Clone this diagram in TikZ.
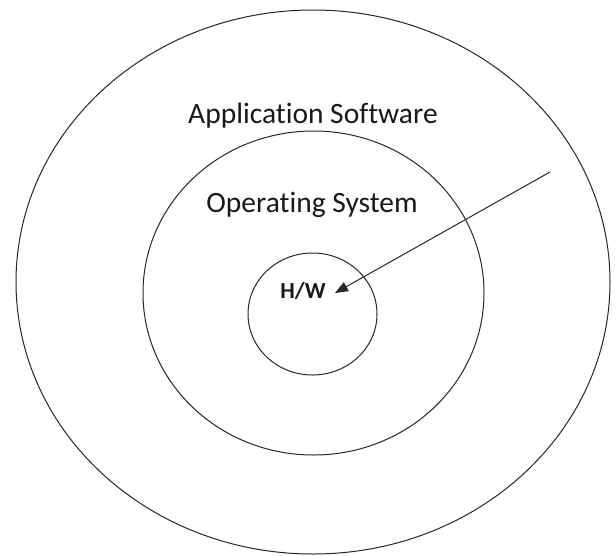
\documentclass[tikz,border=0pt]{standalone}
\usepackage{fontspec}
\setmainfont{Carlito}[Ligatures=NoCommon]
\usetikzlibrary{arrows.meta}
\begin{document}
\begin{tikzpicture}[x=1pt,y=-1pt,
  ring/.style={draw=black!85,line width=1pt},
  lbl/.style={anchor=base,inner sep=0pt,text=black!90,font=\fontsize{29.5}{35}\selectfont},
  hwlbl/.style={anchor=base,inner sep=0pt,text=black!90,font=\fontsize{23}{28}\selectfont\bfseries},
  pointer/.style={draw=black!85,line width=1pt,-{Triangle[length=13pt,width=10pt]}}]
\useasboundingbox (0,0) rectangle (616,555);
\draw[ring] (313,282) ellipse [x radius=297, y radius=272];
\draw[ring] (313.5,293) ellipse [x radius=170.5, y radius=162];
\draw[ring] (312.5,314) ellipse [x radius=64.5, y radius=61];
\node[lbl] (app) at (313,123) {Application Software};
\node[lbl] (os) at (312,212) {Operating System};
\node[hwlbl] (hw) at (303,298) {H/W};
\coordinate (tail) at (550,172);
\coordinate (tip) at (335,293);
\draw[pointer] (tail) -- (tip);
\end{tikzpicture}
\end{document}
